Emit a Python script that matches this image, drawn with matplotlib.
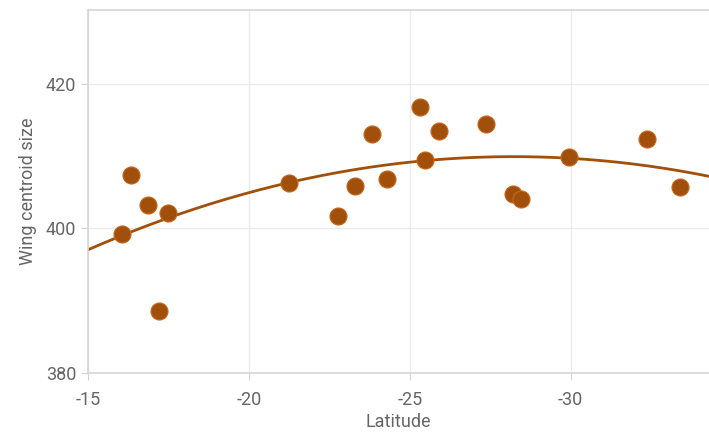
import numpy as np
import matplotlib.pyplot as plt

plt.rcParams['font.family'] = ['Roboto', 'DejaVu Sans']
plt.rcParams['axes.unicode_minus'] = False

# latitude (x) and wing centroid size (y)
latitude = [-16.06, -16.34, -16.86, -17.20, -17.48, -21.24, -22.76, -23.29,
            -23.82, -24.29, -25.31, -25.47, -25.90, -27.36, -28.20, -28.45,
            -29.94, -32.36, -33.39]
wing_size = [399.2, 407.4, 403.3, 388.6, 402.1, 406.3, 401.7, 405.8,
             413.1, 406.8, 416.8, 409.4, 413.4, 414.5, 404.7, 404.0,
             409.9, 412.3, 405.7]

xticks = [-15, -20, -25, -30]
yticks = [380, 400, 420]

col = '#A0500A'
grid_col = '#EBEBEB'
txt_col = '#666666'

fig = plt.figure(figsize=(7.09, 4.33), dpi=100)
ax = fig.add_axes([88/709, 60/433, (709-88)/709, (373-10)/433])

# quadratic fit of size on latitude
coef = np.polyfit(latitude, wing_size, 2)
xs = np.linspace(-15, -34.3, 200)
ax.plot(xs, np.polyval(coef, xs), color=col, lw=2, zorder=2)

ax.scatter(latitude, wing_size, s=150, color=col, edgecolor='#C8661A',
           linewidth=0.8, zorder=3)

ax.set_xlim(-15, -34.3)
ax.set_ylim(380, 430.2)
ax.set_xticks(xticks)
ax.set_yticks(yticks)
ax.grid(True, color=grid_col, lw=1)
ax.set_axisbelow(True)

for s in ['left', 'bottom', 'top']:
    ax.spines[s].set_color('#D5D5D5')
    ax.spines[s].set_linewidth(1.2)
ax.spines['right'].set_visible(False)
ax.tick_params(colors='#D5D5D5', labelcolor=txt_col, labelsize=13, length=5)
ax.tick_params(axis='x', pad=8)

ax.set_xlabel('Latitude', color=txt_col, fontsize=13, labelpad=3)
ax.set_ylabel('Wing centroid size', color=txt_col, fontsize=13, labelpad=6)

fig.savefig('out.png', dpi=100)
